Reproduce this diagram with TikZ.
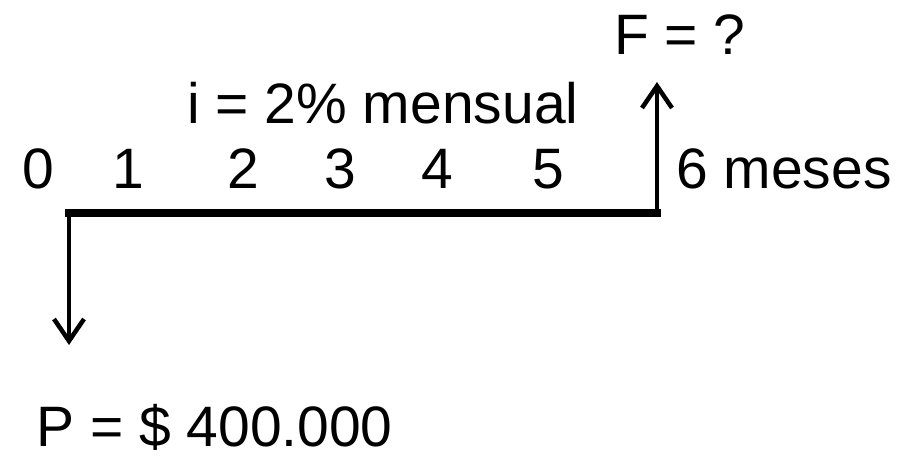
\documentclass[tikz,border=0pt]{standalone}
\usepackage{fontspec}
\setmainfont{Liberation Sans}
\usetikzlibrary{arrows.meta}
\begin{document}
\begin{tikzpicture}[x=1pt,y=-1pt,
  lbl/.style={inner sep=0pt,font=\fontsize{57}{68}\selectfont},
  axis/.style={line width=7.5pt,line cap=rect},
  flow/.style={line width=4.5pt,-{Straight Barb[length=22pt,width=30pt,line width=4.5pt]}}]
\useasboundingbox (0,0) rectangle (901,457);
\fill[white] (0,0) rectangle (901,457);
% texts
\node[lbl,anchor=base west] (F) at (614,55) {F = ?};
\node[lbl,anchor=base west] (i) at (187,124) {i = 2\% mensual};
\node[lbl,anchor=base] (n0) at (38,188) {0};
\node[lbl,anchor=base] (n1) at (128,188) {1};
\node[lbl,anchor=base] (n2) at (243,188) {2};
\node[lbl,anchor=base] (n3) at (340,188) {3};
\node[lbl,anchor=base] (n4) at (437,188) {4};
\node[lbl,anchor=base] (n5) at (548,188) {5};
\node[lbl,anchor=base west] (n6) at (676,188) {6 meses};
\node[lbl,anchor=base west] (P) at (36,446) {P = \$ 400.000};
% geometry
\coordinate (t0) at (69,213);
\coordinate (t6) at (657,213);
\coordinate (pend) at (69,345);
\coordinate (fend) at (657,82);
\draw[axis] (t0) -- (t6);
\draw[flow] (t0) -- (pend);
\draw[flow] (t6) -- (fend);
\end{tikzpicture}
\end{document}
